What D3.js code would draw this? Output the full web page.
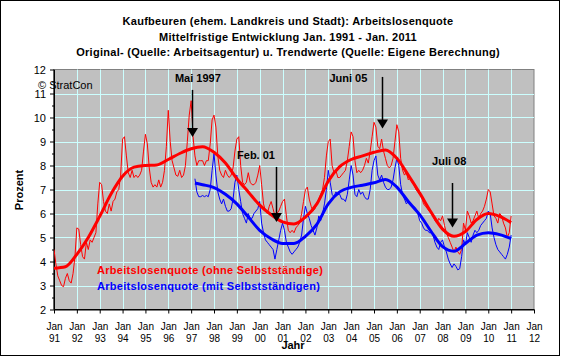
<!DOCTYPE html>
<html><head><meta charset="utf-8">
<script src="https://cdn.jsdelivr.net/npm/d3@7/dist/d3.min.js"></script>
<style>
body{margin:0;background:#fff}
svg{display:block}
text{font-family:"Liberation Sans",Arial,sans-serif;fill:#000}
</style>
</head><body><svg id="c" width="561" height="357"></svg>
<script>
// ---------- data ----------
const titleLines = [
  "Kaufbeuren (ehem. Landkreis und Stadt): Arbeitslosenquote",
  "Mittelfristige Entwicklung Jan. 1991 - Jan. 2011",
  "Original- (Quelle: Arbeitsagentur) u. Trendwerte (Quelle: Eigene Berechnung)"
];
const yearLabels = ["91","92","93","94","95","96","97","98","99","00","01","02","03","04","05","06","07","08","09","10","11","12"];
const monthLabel = "Jan";
const yTicks = [2,3,4,5,6,7,8,9,10,11,12];
const yMinorTicks = [2.5,3.5,4.5,5.5,6.5,7.5,8.5,9.5,10.5,11.5];
const seriesNames = ["Arbeitslosenquote (ohne Selbstständige)", "Arbeitslosenquote (mit Selbstständigen)"];

// monthly original values, ohne Selbstständige, Jan 1991 .. Jan 2011
const redOriginal = [
  4.5,3.9,3.4,3.2,3.0,2.95,3.3,3.5,3.2,3.1,3.5,4.2,
  5.4,5.35,4.7,4.2,4.1,4.8,4.5,4.9,4.8,5.0,5.2,6.4,
  7.3,7.2,6.5,6.1,6.0,6.4,6.1,6.5,6.6,6.9,7.0,7.6,
  9.1,9.2,8.4,7.7,7.5,7.8,7.5,7.6,7.5,7.6,7.8,8.6,
  9.3,8.9,7.9,7.3,7.1,7.2,7.1,7.4,7.1,7.3,7.8,8.8,
  10.3,9.0,8.2,7.9,7.6,7.55,7.8,7.5,7.6,8.0,9.0,10.1,
  10.7,9.2,8.4,8.0,8.2,8.2,8.2,8.0,8.2,8.2,8.9,9.9,
  10.1,9.6,8.4,7.8,7.6,7.5,7.8,7.6,7.5,7.6,7.9,8.6,
  9.1,9.2,8.0,7.3,7.2,7.3,7.7,7.3,7.2,7.2,7.3,7.6,
  8.0,7.2,6.4,6.1,6.0,6.3,6.5,6.2,5.9,6.0,6.1,6.3,
  6.5,6.6,5.9,5.3,5.2,5.3,5.2,5.4,5.5,5.6,6.0,6.5,
  7.0,7.1,6.6,6.3,6.1,6.2,6.4,6.6,6.8,7.0,7.5,8.4,
  9.0,9.1,8.0,7.7,7.8,7.5,7.5,7.6,7.7,7.8,8.2,8.8,
  9.4,9.2,8.2,7.7,7.8,7.7,7.8,8.0,8.3,8.1,8.6,9.2,
  9.8,9.6,8.8,8.7,9.1,8.6,8.3,8.0,7.9,8.0,8.3,9.0,
  9.7,9.4,8.3,7.8,7.6,7.7,7.4,7.5,7.3,7.2,7.0,6.9,
  6.8,6.7,6.4,6.3,6.2,6.1,6.0,5.9,5.7,5.6,5.8,5.7,
  5.9,5.5,5.2,5.0,4.8,4.6,4.4,4.6,4.4,4.3,4.5,5.6,
  5.3,6.1,5.9,5.6,5.7,5.9,6.1,5.8,6.0,6.1,6.3,6.6,
  7.0,6.9,6.4,5.9,5.8,5.6,6.0,5.9,5.6,5.4,5.0,5.2,
  5.9
];
// monthly original values, mit Selbstständigen, Mar 1997 .. Jan 2011
const blueStartMonth = 74;
const blueOriginal = [
  7.45,6.9,6.7,6.7,6.75,6.7,6.75,6.7,7.0,7.8,
  8.5,7.6,6.9,6.6,6.4,6.6,6.3,6.1,6.1,6.2,6.6,7.3,
  7.6,7.0,6.5,6.0,5.8,5.6,6.0,5.8,5.8,6.0,6.1,6.2,
  6.5,5.6,5.2,4.9,4.8,4.7,4.6,4.5,4.1,4.5,4.9,5.3,
  5.6,5.3,4.8,4.6,4.4,4.3,4.4,4.5,4.6,4.8,5.1,5.8,
  6.3,6.0,5.8,5.5,5.3,5.1,5.4,5.9,5.7,6.0,6.4,7.0,
  7.8,7.3,6.8,6.7,6.9,6.8,6.8,6.6,6.6,6.5,6.8,7.4,
  8.0,7.6,6.8,6.7,7.0,6.8,6.9,6.7,6.6,6.6,7.0,7.8,
  8.2,8.4,7.6,7.4,7.6,7.3,7.1,7.0,7.0,7.1,7.4,7.9,
  8.3,8.0,7.2,6.8,6.6,6.4,6.5,6.4,6.3,6.3,6.2,6.0,
  5.7,5.6,5.4,5.3,5.3,5.2,5.2,5.1,4.8,4.6,4.5,4.8,
  4.9,4.6,4.4,4.1,3.9,3.75,3.9,3.8,3.65,3.7,4.2,4.9,
  4.7,5.2,5.0,4.8,5.1,5.3,5.2,5.3,5.5,5.6,5.7,5.8,
  6.1,6.0,5.4,5.0,4.7,4.5,4.4,4.3,4.2,4.1,4.3,4.6,
  5.1
];
// trend values (read every half year), months since Jan 1991
const redTrendMonths = [0,6,12,18,24,30,36,42,48,54,60,66,72,78,84,90,96,102,108,114,120,126,132,138,144,150,156,162,168,174,180,186,192,198,204,210,216,222,228,234,240];
const redTrend = [3.72,3.78,4.3,5.0,5.88,6.82,7.55,7.93,8.0,8.02,8.25,8.5,8.7,8.78,8.55,8.1,7.45,6.9,6.35,5.95,5.65,5.56,5.85,6.4,7.35,7.95,8.25,8.4,8.55,8.65,8.3,7.6,6.85,6.05,5.35,5.05,5.25,5.75,6.0,5.88,5.62];
const blueTrendMonths = [74,78,84,90,96,102,108,114,120,126,132,138,144,150,156,162,168,174,180,186,192,198,204,210,216,222,228,234,240];
const blueTrend = [7.27,7.2,7.08,6.8,6.4,5.85,5.3,4.95,4.75,4.75,5.05,5.55,6.4,6.9,7.09,7.18,7.28,7.42,7.1,6.5,5.95,5.25,4.62,4.43,4.75,5.1,5.2,5.12,4.95];

// annotations (data coordinates: month index, value)
const annoLabels = ["Mai 1997","Feb. 01","Juni 05","Juli 08"];
const annoTextMonth = [63.5, 96.1, 144.6, 198.5];
const annoTextValue = [11.48, 8.29, 11.48, 8.02];
const annoArrowMonth = [72.4, 116.5, 172.2, 208.9];
const annoArrowFrom = [11.15, 7.94, 11.69, 7.27];
const annoArrowTo = [9.19, 5.65, 9.54, 5.42];
const copyrightText = "\u00A9 StratCon";

// ---------- drawing ----------
const svg = d3.select("#c");
const L = 54, R = 534, T = 69.5, B = 309.5;
const x = d3.scaleLinear().domain([0, 252]).range([L, R]);
const y = d3.scaleLinear().domain([2, 12]).range([B, T]);

svg.append("rect").attr("x",0).attr("y",0).attr("width",561).attr("height",357).attr("fill","#fff");
svg.append("rect").attr("x",0.5).attr("y",0.5).attr("width",559).attr("height",355)
  .attr("fill","none").attr("stroke","#000").attr("stroke-width",1);

// title
svg.append("g").selectAll("text").data(titleLines).join("text")
  .attr("x", 288).attr("y", (d,i) => 25 + i*15.7)
  .attr("text-anchor","middle").attr("font-size","11px").attr("font-weight","bold")
  .attr("letter-spacing","0.28px")
  .text(d => d);

// plot area
svg.append("rect").attr("x",L).attr("y",T).attr("width",R-L).attr("height",B-T)
  .attr("fill","#C0C0C0").attr("stroke","#808080").attr("stroke-width",1);

// gridlines
const grid = svg.append("g").attr("stroke","#CCFFFF").attr("stroke-width",1);
grid.selectAll("line.v").data(d3.range(12, 241, 12)).join("line").attr("class","v")
  .attr("x1", d => Math.round(x(d))+0.5).attr("x2", d => Math.round(x(d))+0.5)
  .attr("y1", T).attr("y2", B);
grid.selectAll("line.h").data(yTicks.filter(v => v > 2 && v < 12)).join("line").attr("class","h")
  .attr("x1", L).attr("x2", R)
  .attr("y1", d => Math.round(y(d))+0.5).attr("y2", d => Math.round(y(d))+0.5);

// axes
const yAxis = svg.append("g").attr("transform", `translate(${L},0)`)
  .call(d3.axisLeft(y).tickValues(yTicks).tickSize(4).tickSizeOuter(0).tickPadding(4).tickFormat(d3.format("d")));
yAxis.selectAll("text").attr("font-size","11px").attr("font-family","Liberation Sans, Arial, sans-serif").attr("dy","0.36em");
const yMinor = svg.append("g").attr("transform", `translate(${L},0)`)
  .call(d3.axisLeft(y).tickValues(yMinorTicks).tickSize(2).tickSizeOuter(0).tickFormat(""));
yMinor.select(".domain").remove();
[yAxis, yMinor].forEach(g => g.selectAll("line,path").attr("stroke","#000"));

const xAxis = svg.append("g").attr("transform", `translate(0,${B})`)
  .call(d3.axisBottom(x).tickValues(d3.range(0, 253, 12)).tickSize(4).tickSizeOuter(0).tickFormat(""));
xAxis.selectAll("line,path").attr("stroke","#000");
xAxis.selectAll(".tick").each(function(d, i) {
  const t = d3.select(this).append("text").attr("text-anchor","middle")
    .attr("font-size","10px").attr("fill","#000");
  t.append("tspan").attr("x",0).attr("y",20).text(monthLabel);
  t.append("tspan").attr("x",0).attr("y",32).text(yearLabels[i]);
});
// redraw top/right frame in gray over nothing; left and bottom axis lines black
svg.append("line").attr("x1",L).attr("x2",L).attr("y1",T).attr("y2",B).attr("stroke","#000");
svg.append("line").attr("x1",L).attr("x2",R).attr("y1",B).attr("y2",B).attr("stroke","#000");

// axis titles
svg.append("text").attr("x", 293).attr("y", 349).attr("text-anchor","middle")
  .attr("font-size","11px").attr("font-weight","bold").text("Jahr");
svg.append("text").attr("transform","translate(23,190) rotate(-90)").attr("text-anchor","middle")
  .attr("font-size","11px").attr("font-weight","bold").text("Prozent");

// lines
const clip = svg.append("defs").append("clipPath").attr("id","pc")
  .append("rect").attr("x",L).attr("y",T).attr("width",R-L).attr("height",B-T);
const lines = svg.append("g").attr("clip-path","url(#pc)");
const lineOrig = d3.line().x((d,i) => x(i)).y(d => y(d));
const lineBlue = d3.line().x((d,i) => x(i + blueStartMonth)).y(d => y(d));
const lineTrend = d3.line().x(d => x(d[0])).y(d => y(d[1])).curve(d3.curveMonotoneX);

lines.append("path").datum(redOriginal).attr("d", lineOrig)
  .attr("fill","none").attr("stroke","#FF0000").attr("stroke-width",1);
lines.append("path").datum(blueOriginal).attr("d", lineBlue)
  .attr("fill","none").attr("stroke","#0000FF").attr("stroke-width",1);
lines.append("path").datum(d3.zip(redTrendMonths, redTrend)).attr("d", lineTrend)
  .attr("fill","none").attr("stroke","#FF0000").attr("stroke-width",3);
lines.append("path").datum(d3.zip(blueTrendMonths, blueTrend)).attr("d", lineTrend)
  .attr("fill","none").attr("stroke","#0000FF").attr("stroke-width",3);

// legend texts
svg.append("text").attr("x",97).attr("y",274).attr("font-size","11px").attr("font-weight","bold")
  .attr("letter-spacing","0.3px").style("fill","#FF0000").text(seriesNames[0]);
svg.append("text").attr("x",97).attr("y",290).attr("font-size","11px").attr("font-weight","bold")
  .attr("letter-spacing","0.3px").style("fill","#0000FF").text(seriesNames[1]);

// copyright
svg.append("text").attr("x",38).attr("y",89).attr("font-size","11px").text(copyrightText);

// annotations
const ann = svg.append("g");
annoLabels.forEach((lab, i) => {
  ann.append("text").attr("x", x(annoTextMonth[i])).attr("y", y(annoTextValue[i]))
    .attr("font-size","11px").attr("font-weight","bold").text(lab);
  const ax = Math.round(x(annoArrowMonth[i])) + 0.5;
  const y0 = y(annoArrowFrom[i]), y1 = y(annoArrowTo[i]);
  ann.append("line").attr("x1",ax).attr("x2",ax).attr("y1",y0).attr("y2",y1 - 6)
    .attr("stroke","#000").attr("stroke-width",1.5);
  ann.append("path").attr("d", `M${ax-5.5},${y1-9} L${ax+5.5},${y1-9} L${ax},${y1} Z`)
    .attr("fill","#000");
});
</script>
</body></html>
